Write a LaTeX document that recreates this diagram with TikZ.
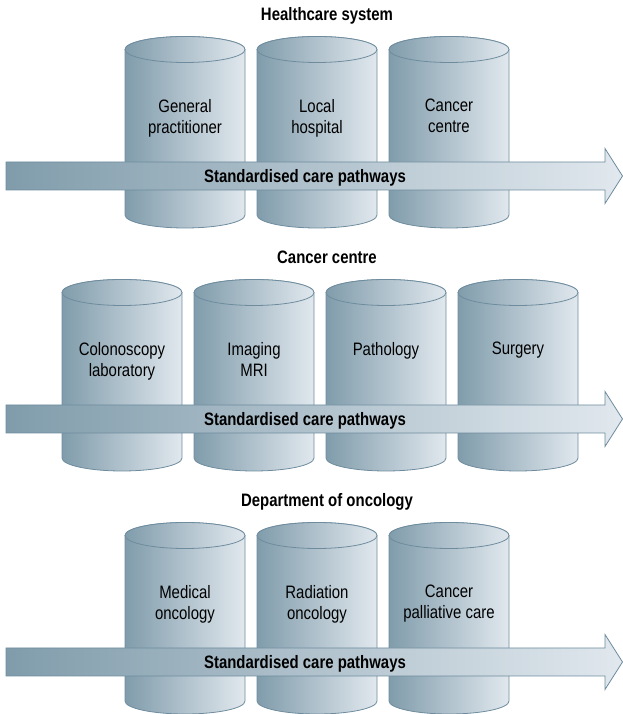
\documentclass[tikz,border=0pt]{standalone}
\usepackage{fontspec}
\setmainfont{Liberation Sans}[FakeStretch=0.83]
\definecolor{rim}{RGB}{110,140,158}
\definecolor{shade}{RGB}{128,156,171}
\definecolor{pale}{RGB}{225,232,238}
\begin{document}
\begin{tikzpicture}[x=1pt,y=1pt,
    skin/.style={draw=rim,line width=0.8pt,left color=shade,right color=pale},
    tank/.pic={
      \path[skin] (0,0) -- (0,-165.5)
        arc[start angle=180,end angle=360,x radius=60,y radius=13]
        -- (120,0) arc[start angle=0,end angle=180,x radius=60,y radius=13] -- cycle;
      \path[skin] (60,0) ellipse[x radius=60,y radius=13];
    },
    flow/.pic={
      \path[skin] (6,14) -- (605,14) -- (605,27.5) -- (622.5,0)
        -- (605,-27.5) -- (605,-14) -- (6,-14) -- cycle;
    },
    heading/.style={font=\fontsize{18}{21}\selectfont\bfseries,anchor=base,inner sep=0pt},
    lbl/.style={font=\fontsize{18}{21}\selectfont,align=center,anchor=north,inner sep=0pt}]
  \useasboundingbox (0,0) rectangle (623,714);

  % healthcare system
  \node[heading] (sys) at (327,693) {Healthcare system};
  \pic at (125,664.5) {tank};
  \pic at (257,664.5) {tank};
  \pic at (389,664.5) {tank};
  \node[lbl] (gp) at (185,615) {General\\practitioner};
  \node[lbl] (hosp) at (317,615) {Local\\hospital};
  \node[lbl] (cc) at (449,615) {Cancer\\centre};
  \pic at (0,538) {flow};
  \node[heading] (path1) at (305,531.5) {Standardised care pathways};

  % cancer centre
  \node[heading] (centre) at (327,450) {Cancer centre};
  \pic at (62,421.5) {tank};
  \pic at (194,421.5) {tank};
  \pic at (326,421.5) {tank};
  \pic at (458,421.5) {tank};
  \node[lbl] (colo) at (122,372) {Colonoscopy\\laboratory};
  \node[lbl] (mri) at (254,372) {Imaging\\MRI};
  \node[lbl] (patho) at (386,372) {Pathology};
  \node[lbl] (surg) at (518,372) {Surgery};
  \pic at (0,295) {flow};
  \node[heading] (path2) at (305,288.5) {Standardised care pathways};

  % department of oncology
  \node[heading] (dept) at (327,207) {Department of oncology};
  \pic at (125,178.5) {tank};
  \pic at (257,178.5) {tank};
  \pic at (389,178.5) {tank};
  \node[lbl] (med) at (185,129) {Medical\\oncology};
  \node[lbl] (rad) at (317,129) {Radiation\\oncology};
  \node[lbl] (pall) at (449,129) {Cancer\\palliative care};
  \pic at (0,52) {flow};
  \node[heading] (path3) at (305,45.5) {Standardised care pathways};
\end{tikzpicture}
\end{document}
